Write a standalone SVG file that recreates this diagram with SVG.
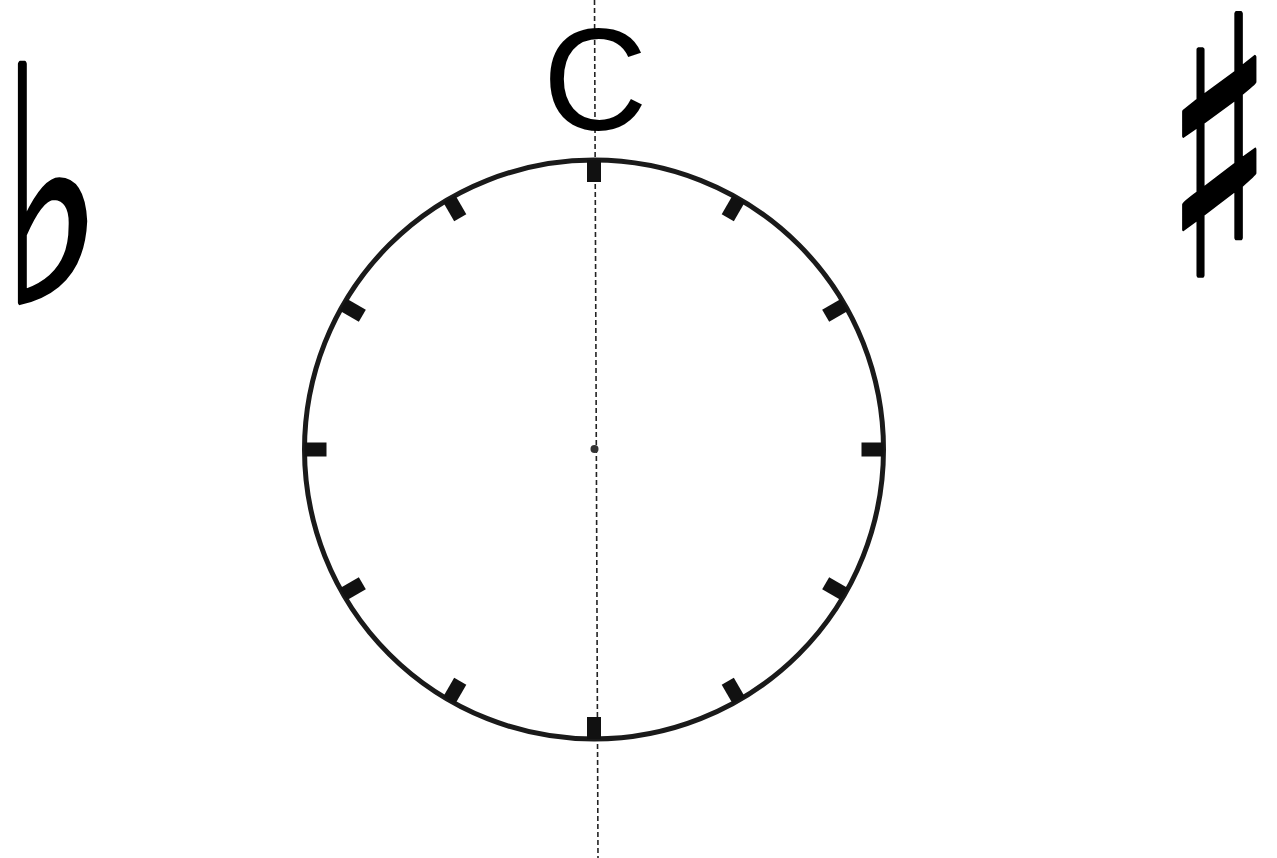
<svg xmlns="http://www.w3.org/2000/svg" width="1277" height="858" viewBox="0 0 1277 858">
<style>
.sym{font-family:"DejaVu Sans",sans-serif;fill:#000;stroke:#000;stroke-linejoin:round}
.tick{fill:#111}
</style>
<rect width="1277" height="858" fill="#fff"/>
<g id="axis">
<line x1="594.5" y1="0" x2="598" y2="858" stroke="#222" stroke-width="1.6" stroke-dasharray="5,3"/>
</g>
<g id="dial">
<circle cx="594" cy="449.5" r="289.5" fill="none" stroke="#1a1a1a" stroke-width="5"/>
<g class="tick">
<rect x="587" y="160" width="14" height="22" transform="rotate(0 594 449.5)"/>
<rect x="587" y="160" width="14" height="22" transform="rotate(30 594 449.5)"/>
<rect x="587" y="160" width="14" height="22" transform="rotate(60 594 449.5)"/>
<rect x="587" y="160" width="14" height="22" transform="rotate(90 594 449.5)"/>
<rect x="587" y="160" width="14" height="22" transform="rotate(120 594 449.5)"/>
<rect x="587" y="160" width="14" height="22" transform="rotate(150 594 449.5)"/>
<rect x="587" y="160" width="14" height="22" transform="rotate(180 594 449.5)"/>
<rect x="587" y="160" width="14" height="22" transform="rotate(210 594 449.5)"/>
<rect x="587" y="160" width="14" height="22" transform="rotate(240 594 449.5)"/>
<rect x="587" y="160" width="14" height="22" transform="rotate(270 594 449.5)"/>
<rect x="587" y="160" width="14" height="22" transform="rotate(300 594 449.5)"/>
<rect x="587" y="160" width="14" height="22" transform="rotate(330 594 449.5)"/>
</g>
<circle cx="594.5" cy="449" r="4" fill="#333"/>
</g>
<g id="label-c">
<text x="595" y="130" text-anchor="middle" font-family="Liberation Sans, Arial, sans-serif" font-size="145" fill="#000">C</text>
</g>
<g id="flat">
<text class="sym" x="0" y="0" font-size="300" stroke-width="4" transform="translate(0,302) scale(0.73,1.09)">♭</text>
</g>
<g id="sharp">
<text class="sym" x="0" y="0" font-size="300" stroke-width="3" transform="translate(1164,276) scale(0.76,1.2)">♯</text>
</g>
</svg>
